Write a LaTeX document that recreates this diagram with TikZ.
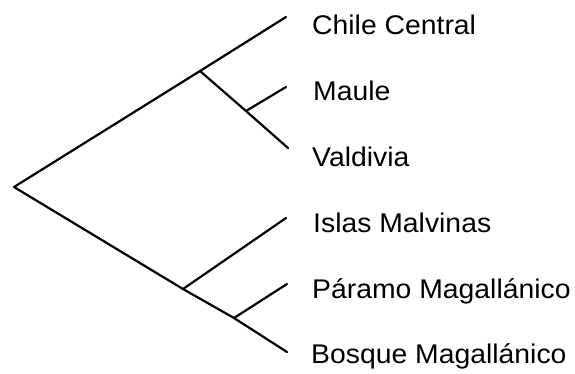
\documentclass[tikz,border=0pt]{standalone}
\usepackage{fontspec}
\setmainfont{Liberation Sans}
\begin{document}
\begin{tikzpicture}[x=1pt,y=-1pt,
  branch/.style={line width=2.2pt, line cap=round, line join=round},
  taxon/.style={anchor=base west, inner sep=0pt, xscale=1.05, font=\fontsize{27}{32}\selectfont}]
\useasboundingbox (0,0) rectangle (575,373);
% internal nodes
\coordinate (R) at (14,187);
\coordinate (A) at (200,71);
\coordinate (B) at (246,111);
\coordinate (C) at (183,289);
\coordinate (D) at (234,318);
% tips
\coordinate (t1) at (286,17);
\coordinate (t2) at (286,87);
\coordinate (t3) at (288,148);
\coordinate (t4) at (286,218);
\coordinate (t5) at (287,284);
\coordinate (t6) at (287,352);
% branches
\draw[branch] (t1) -- (A) -- (R) -- (C) -- (D) -- (t6);
\draw[branch] (A) -- (B) -- (t3);
\draw[branch] (B) -- (t2);
\draw[branch] (C) -- (t4);
\draw[branch] (D) -- (t5);
% labels
\node[taxon] (n1) at (312,34) {Chile Central};
\node[taxon] (n2) at (313,100) {Maule};
\node[taxon] (n3) at (312,166) {Valdivia};
\node[taxon] (n4) at (313,232) {Islas Malvinas};
\node[taxon] (n5) at (312,298) {Páramo Magallánico};
\node[taxon] (n6) at (311,363) {Bosque Magallánico};
\end{tikzpicture}
\end{document}
